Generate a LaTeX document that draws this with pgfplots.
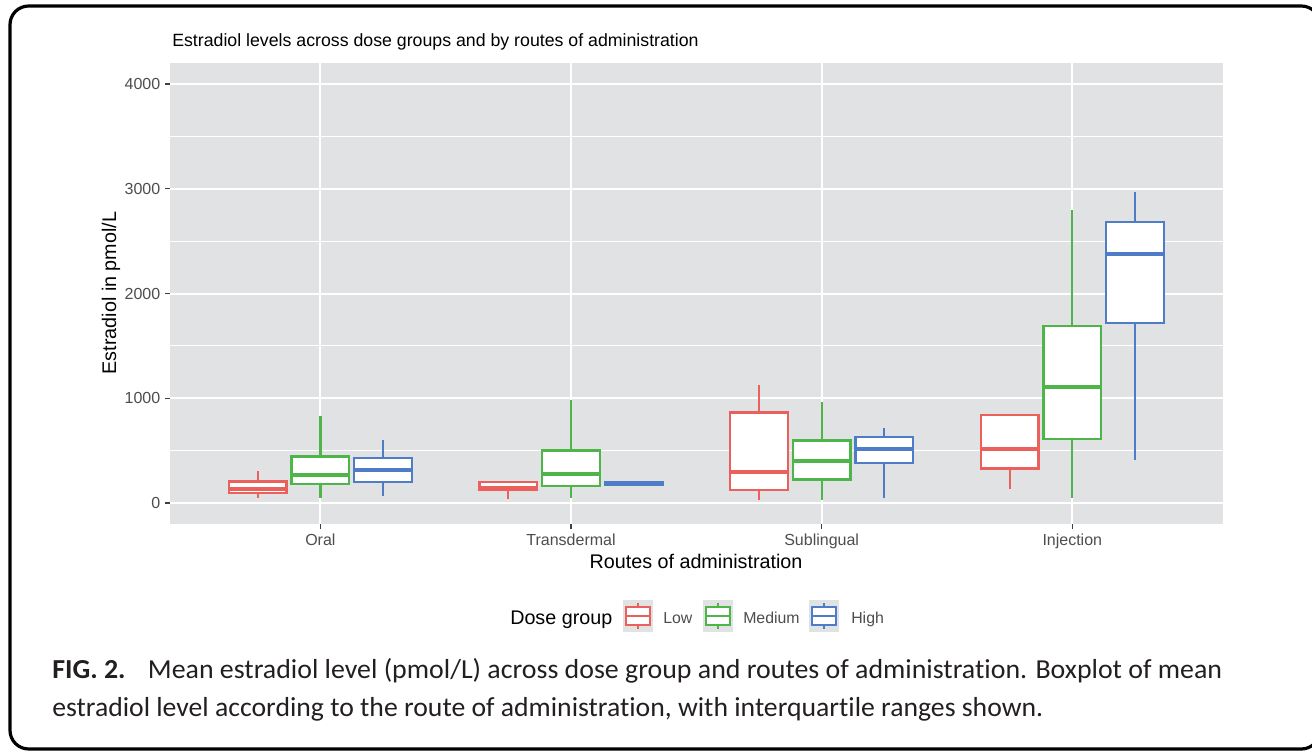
\documentclass[border=0pt]{standalone}
\usepackage{fontspec}
\setmainfont{Liberation Sans}
\newfontfamily\capfont[Ligatures=NoCommon]{Carlito}
\usepackage{graphicx}
\usepackage{pgfplots}
\pgfplotsset{compat=1.18}
\definecolor{panelbg}{RGB}{225,226,228}
\definecolor{cLow}{RGB}{236,96,92}
\definecolor{cMed}{RGB}{78,182,72}
\definecolor{cHigh}{RGB}{78,124,198}
\definecolor{ticktxt}{RGB}{77,77,77}
\definecolor{capcol}{RGB}{35,31,32}
% colour, left, centre, right, lower whisker, lower quartile, median, upper quartile, upper whisker
\newcommand{\bx}[9]{%
  \addplot[#1, line width=1.7pt] coordinates {(#3,#5) (#3,#6)};
  \addplot[#1, line width=1.7pt] coordinates {(#3,#8) (#3,#9)};
  \addplot[draw=#1, fill=white, line width=1.7pt] coordinates {(#2,#6) (#4,#6) (#4,#8) (#2,#8)} -- cycle;
  \addplot[#1, line width=3pt] coordinates {(#2,#7) (#4,#7)};
}
\begin{document}
\begin{tikzpicture}
\begin{axis}[
  at={(127.5pt,-393pt)}, anchor=south west, scale only axis,
  width=789.5pt, height=345.75pt,
  xmin=0.4, xmax=4.6, ymin=-200, ymax=4200,
  xtick={1,2,3,4}, xticklabels={Oral,Transdermal,Sublingual,Injection},
  ytick={0,1000,2000,3000,4000}, minor ytick={500,1500,2500,3500},
  grid=both,
  major grid style={white, line width=1.5pt},
  minor grid style={white, line width=0.8pt},
  axis background/.style={fill=panelbg},
  axis line style={draw=none},
  tick align=outside, tick pos=left,
  major tick length=3.75pt, minor tick length=0pt,
  major tick style={color=black!75, line width=1pt},
  minor tick style={draw=none},
  ticklabel style={font=\fontsize{12}{14}\selectfont, text=ticktxt},
  /pgf/number format/assume math mode=true,
  /pgf/number format/1000 sep={},
  scaled y ticks=false,
  mark=none,
]
\bx{cLow}{0.635}{0.75}{0.865}{50}{95}{133}{205}{305}
\bx{cMed}{0.885}{1.00}{1.115}{48}{181}{270}{444}{832}
\bx{cHigh}{1.135}{1.25}{1.365}{70}{203}{317}{429}{603}
\bx{cLow}{1.635}{1.75}{1.865}{38}{125}{140}{200}{200}
\bx{cMed}{1.885}{2.00}{2.115}{48}{165}{279}{502}{984}
\bx{cHigh}{2.135}{2.25}{2.365}{168}{176}{188}{200}{207}
\bx{cLow}{2.635}{2.75}{2.865}{26}{128}{294}{863}{1128}
\bx{cMed}{2.885}{3.00}{3.115}{32}{224}{399}{597}{965}
\bx{cHigh}{3.135}{3.25}{3.365}{48}{380}{518}{633}{719}
\bx{cLow}{3.635}{3.75}{3.865}{137}{331}{518}{838}{838}
\bx{cMed}{3.885}{4.00}{4.115}{48}{612}{1110}{1687}{2800}
\bx{cHigh}{4.135}{4.25}{4.365}{410}{1715}{2377}{2680}{2966}
\end{axis}
\begin{scope}[x=0.75pt,y=-0.75pt]
% title
\node[anchor=base west, inner sep=0, font=\fontsize{13.3}{15}\selectfont] at (172,47)
  {Estradiol levels across dose groups and by routes of administration};
% axis titles
\node[anchor=base, inner sep=0, font=\fontsize{14.8}{17}\selectfont] at (696,568)
  {Routes of administration};
\node[anchor=base, inner sep=0, rotate=90, font=\fontsize{14.8}{17}\selectfont] at (116,293)
  {Estradiol in pmol/L};
% legend
\node[anchor=base west, inner sep=0, font=\fontsize{14.8}{17}\selectfont] at (510,624) {Dose group};
\foreach \kx/\col/\lab/\lx in {623/cLow/Low/663, 703/cMed/Medium/743, 809/cHigh/High/851} {
  \fill[panelbg] (\kx,600) rectangle (\kx+30,632);
  \draw[\col, line width=1.4pt, fill=white] (\kx+3,607) rectangle (\kx+27,625);
  \draw[\col, line width=1.4pt] (\kx+3,616) -- (\kx+27,616);
  \draw[\col, line width=1.4pt] (\kx+15,603) -- (\kx+15,607) (\kx+15,625) -- (\kx+15,629);
  \node[anchor=base west, inner sep=0, font=\fontsize{11.9}{14}\selectfont, text=ticktxt] at (\lx,623) {\lab};
}
% caption
\node[anchor=base west, inner sep=0, text=capcol] at (52,678)
  {\resizebox{877.5pt}{\height}{\capfont\fontsize{20.6}{24}\selectfont\textbf{FIG. 2.}\hspace{0.8em}Mean estradiol level (pmol/L) across dose group and routes of administration. Boxplot of mean}};
\node[anchor=base west, inner sep=0, text=capcol] at (52,716)
  {\resizebox{743.25pt}{\height}{\capfont\fontsize{20.6}{24}\selectfont estradiol level according to the route of administration, with interquartile ranges shown.}};
% frame
\draw[line width=2.4pt, rounded corners=14pt] (10,6) rectangle (1320,749);
\pgfresetboundingbox
\path[use as bounding box] (0,0) rectangle (1312,752);
\end{scope}
\end{tikzpicture}
\end{document}
